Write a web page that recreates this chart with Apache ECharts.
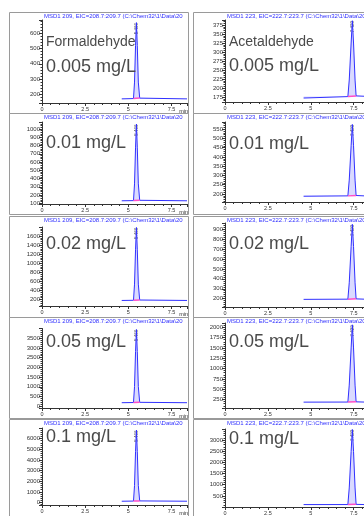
<!DOCTYPE html>
<html>
<head>
<meta charset="utf-8">
<script src="https://cdn.jsdelivr.net/npm/echarts@6/dist/echarts.min.js"></script>
<style>
  html, body { margin: 0; padding: 0; background: #fff; }
  #main { width: 364px; height: 516px; }
</style>
</head>
<body>
<div id="main"></div>
<script>
var compounds = ['Formaldehyde', 'Acetaldehyde'];
var concentrations = ['0.005 mg/L', '0.01 mg/L', '0.02 mg/L', '0.05 mg/L', '0.1 mg/L'];
var headers = [
  'MSD1 209, EIC=208.7:209.7 (C:\\Chem32\\1\\Data\\2016\\0510\\FA-AA',
  'MSD1 223, EIC=222.7:223.7 (C:\\Chem32\\1\\Data\\2016\\0510\\FA-AA'
];
var retentionTimes = ['5.466', '7.423'];
var xTickStep = 2.5;
var xMax = [8.4, 8.1];

// retention time axis of each trace (min)
var formTimes = [4.62, 5.30, 5.36, 5.42, 5.47, 5.52, 5.58, 5.66, 8.40];
var acetTimes = [4.58, 7.16, 7.24, 7.35, 7.42, 7.49, 7.58, 7.64, 8.10];

// formaldehyde abundance, one list per concentration
var formAbund = [
  [170, 172, 280, 520, 670, 520, 280, 175, 170],
  [130, 132, 335, 780, 1060, 780, 335, 136, 130],
  [180, 184, 540, 1310, 1790, 1310, 540, 190, 180],
  [180, 190, 1010, 2820, 3950, 2820, 1010, 200, 180],
  [120, 135, 1590, 4800, 6800, 4800, 1590, 150, 120]
];
// acetaldehyde abundance
var acetAbund = [
  [172, 176, 222, 325, 387, 325, 222, 178, 177],
  [188, 190, 275, 460, 575, 460, 275, 192, 190],
  [193, 195, 360, 725, 950, 725, 360, 198, 195],
  [188, 190, 600, 1500, 2060, 1500, 600, 195, 190],
  [108, 110, 855, 2490, 3480, 2490, 855, 118, 110]
];

// y axis ranges and tick steps
var formYMin = [143, 91, 58, -92, -234];
var formYMax = [687, 1085, 1800, 4000, 6990];
var formYStep = [100, 100, 200, 500, 1000];
var acetYMin = [161, 157, 116, 46, 0];
var acetYMax = [389, 588, 963, 2104, 3500];
var acetYStep = [25, 50, 100, 250, 500];

// layout
var frameX = [9, 193];
var frameW = [179, 180];
var frameTop = [12, 113, 216, 317, 419];
var gridLeft = [42, 225];
var gridWidth = [145, 139];
var gridTop = [[20, 122, 227, 328.5, 428], [20, 122, 223, 323, 429]];
var gridBottom = [[103, 204, 306, 408, 508], [102, 202, 307, 408, 507]];
var labelMid = [[68, 144, 245, 343, 438], [67, 145, 245, 343, 440]];

var textColor = '#4a4a4a';
var axisColor = '#333';

var grids = [], xAxes = [], yAxes = [], series = [], titles = [], graphics = [];

for (var c = 0; c < 2; c++) {
  var times = c === 0 ? formTimes : acetTimes;
  var abund = c === 0 ? formAbund : acetAbund;
  var yMin = c === 0 ? formYMin : acetYMin;
  var yMax = c === 0 ? formYMax : acetYMax;
  var yStep = c === 0 ? formYStep : acetYStep;

  for (var r = 0; r < 5; r++) {
    var idx = grids.length;

    graphics.push({
      type: 'rect',
      shape: { x: frameX[c] + 0.5, y: frameTop[r] + 0.5, width: frameW[c], height: 101 },
      style: { fill: 'none', stroke: '#9a9a9a', lineWidth: 1 },
      silent: true
    });

    grids.push({
      left: gridLeft[c],
      top: gridTop[c][r],
      width: gridWidth[c],
      height: gridBottom[c][r] - gridTop[c][r]
    });

    xAxes.push({
      gridIndex: idx,
      type: 'value',
      min: 0,
      max: xMax[c],
      interval: xTickStep,
      name: c === 0 ? 'min' : '',
      nameLocation: 'end',
      nameGap: -9,
      nameTextStyle: { fontSize: 5.5, color: axisColor, verticalAlign: 'top', padding: [5, 0, 0, 0] },
      axisLine: { onZero: false, lineStyle: { color: axisColor, width: 1 } },
      axisTick: { length: 3, lineStyle: { color: axisColor } },
      minorTick: { show: true, splitNumber: 5, length: 2, lineStyle: { color: axisColor } },
      splitLine: { show: false },
      axisLabel: { fontSize: 5.5, color: axisColor, margin: 3, showMaxLabel: false, fontFamily: 'Liberation Sans' }
    });

    yAxes.push({
      gridIndex: idx,
      type: 'value',
      min: yMin[r],
      max: yMax[r],
      minInterval: yStep[r],
      maxInterval: yStep[r],
      axisLine: { show: true, lineStyle: { color: axisColor, width: 1 } },
      axisTick: { show: true, length: 3, lineStyle: { color: axisColor } },
      minorTick: { show: true, splitNumber: 5, length: 1.5, lineStyle: { color: axisColor } },
      splitLine: { show: false },
      axisLabel: {
        fontSize: 6, color: axisColor, margin: 2, interval: 0,
        showMinLabel: false, showMaxLabel: false, fontFamily: 'Liberation Sans',
        formatter: function (v) { return String(v); }
      }
    });

    var pts = [];
    for (var k = 0; k < times.length; k++) {
      pts.push([times[k], abund[r][k]]);
    }
    var apex = pts[4];
    var base = abund[r][1];

    series.push({
      type: 'line',
      xAxisIndex: idx,
      yAxisIndex: idx,
      data: pts,
      symbol: 'none',
      silent: true,
      lineStyle: { color: '#3030ff', width: 1 },
      areaStyle: { origin: base, color: 'rgba(140,140,255,0.45)' }
    });
    series.push({
      type: 'line',
      xAxisIndex: idx,
      yAxisIndex: idx,
      data: [pts[1], pts[7]],
      symbol: 'none',
      silent: true,
      lineStyle: { color: '#ff4fc8', width: 1.5 }
    });
    series.push({
      type: 'scatter',
      xAxisIndex: idx,
      yAxisIndex: idx,
      data: [apex],
      symbolSize: 1,
      silent: true,
      itemStyle: { color: 'rgba(0,0,0,0)' },
      label: {
        show: true,
        formatter: retentionTimes[c],
        rotate: 90,
        position: 'inside',
        offset: [-6, 0],
        fontSize: 4.5,
        color: '#333',
        fontFamily: 'Liberation Sans'
      }
    });

    titles.push({
      text: headers[c],
      left: gridLeft[c] + 2,
      top: frameTop[r] + 1,
      padding: 0,
      textStyle: {
        fontSize: 6, color: '#3030ff', fontWeight: 'normal', fontFamily: 'Liberation Sans',
        width: frameX[c] + frameW[c] - gridLeft[c] - 4, overflow: 'truncate', ellipsis: ''
      }
    });
    if (r === 0) {
      titles.push({
        text: compounds[c],
        left: gridLeft[c] + 4,
        top: 35,
        padding: 0,
        textStyle: { fontSize: 14, color: textColor, fontWeight: 'normal', fontFamily: 'Liberation Sans' }
      });
    }
    titles.push({
      text: concentrations[r],
      left: gridLeft[c] + 4,
      top: labelMid[c][r] - 10,
      padding: 0,
      textStyle: { fontSize: 18, color: textColor, fontWeight: 'normal', fontFamily: 'Liberation Sans' }
    });
  }
}

var option = {
  animation: false,
  backgroundColor: '#fff',
  title: titles,
  grid: grids,
  xAxis: xAxes,
  yAxis: yAxes,
  series: series,
  graphic: graphics
};

var myChart = echarts.init(document.getElementById('main'));
myChart.setOption(option);
</script>
</body>
</html>
